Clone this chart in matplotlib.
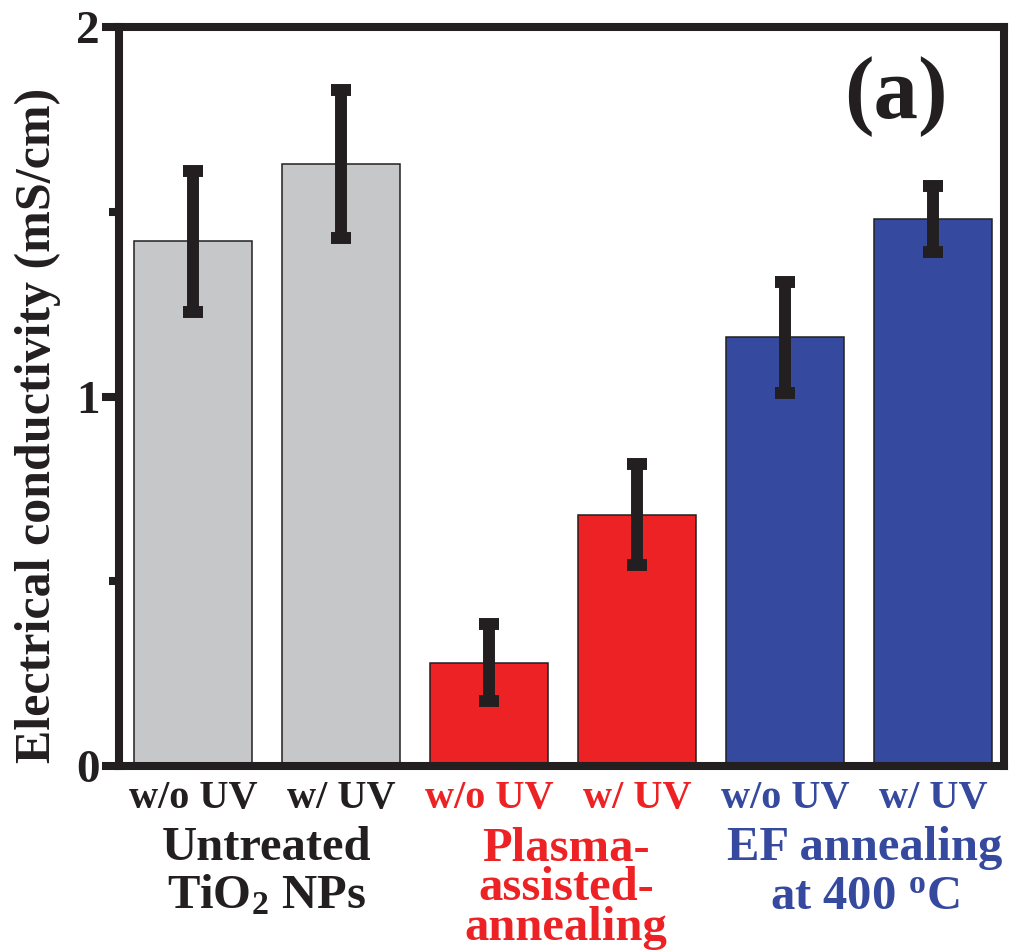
import matplotlib
matplotlib.use("Agg")
import matplotlib.pyplot as plt
from matplotlib.ticker import FixedLocator

plt.rcParams['font.family'] = ['Liberation Serif', 'DejaVu Serif']
plt.rcParams['font.weight'] = 'bold'
plt.rcParams['mathtext.fontset'] = 'custom'
plt.rcParams['mathtext.rm'] = 'Liberation Serif:bold'
plt.rcParams['mathtext.it'] = 'Liberation Serif:bold'
plt.rcParams['mathtext.bf'] = 'Liberation Serif:bold'

# data
conditions = ["w/o UV", "w/ UV", "w/o UV", "w/ UV", "w/o UV", "w/ UV"]
conductivity = [1.42, 1.63, 0.28, 0.68, 1.16, 1.48]
errors = [0.19, 0.20, 0.105, 0.137, 0.15, 0.089]
bar_colors = ["#c6c7c9", "#c6c7c9", "#ed2224", "#ed2224", "#354a9f", "#354a9f"]
label_colors = ["#231f20", "#231f20", "#ed2224", "#ed2224", "#354a9f", "#354a9f"]

groups = [
    ["Untreated", "TiO$_\\mathrm{2}$ NPs"],
    ["Plasma-", "assisted-", "annealing"],
    ["EF annealing", "at 400 $^\\mathrm{o}$C"],
]
group_x = [0.5, 2.52, 4.54]
group_colors = ["#231f20", "#ed2224", "#354a9f"]
# baselines of each line (axes fraction)
group_lines_y = [[-0.127, -0.193], [-0.128, -0.182, -0.235], [-0.127, -0.193]]

dark = "#231f20"

fig = plt.figure(figsize=(10.09, 9.52), dpi=100)
ax = fig.add_axes([0.1179, 0.1954, 0.8771, 0.7762])

x = list(range(len(conductivity)))
ax.bar(x, conductivity, width=0.8, color=bar_colors, edgecolor=dark,
       linewidth=1.1, zorder=2)
ax.errorbar(x, conductivity, yerr=errors, fmt='none', ecolor=dark,
            elinewidth=8.6, capsize=7.5, capthick=8.6, zorder=3)

ax.set_xlim(-0.5, 5.48)
ax.set_ylim(0, 2)

for s in ax.spines.values():
    s.set_linewidth(5.8)
    s.set_color(dark)
    s.set_zorder(5)

ax.set_yticks([0, 1, 2])
ax.set_yticklabels(["0", "1", "2"])
ax.yaxis.set_minor_locator(FixedLocator([0.5, 1.5]))
ax.tick_params(axis='y', which='major', length=12, width=5.8, color=dark,
               labelsize=34, pad=2, labelcolor=dark)
ax.tick_params(axis='y', which='minor', length=7, width=5.8, color=dark)
ax.set_xticks([])

tr = ax.get_xaxis_transform()
for xi, lab, c in zip(x, conditions, label_colors):
    ax.text(xi, -0.057, lab, transform=tr, ha='center', va='baseline',
            fontsize=29, fontweight='bold', color=c)

for gx, lines, ys, c in zip(group_x, groups, group_lines_y, group_colors):
    for line, yy in zip(lines, ys):
        ax.text(gx, yy, line, transform=tr, ha='center', va='baseline',
                fontsize=35, fontweight='bold', color=c, clip_on=False)

fig.text(38 / 1009, 0.5536, "Electrical conductivity (mS/cm)", rotation=90,
         ha='center', va='center', fontsize=36, fontweight='bold', color=dark)

ax.text(896 / 1009, (952 - 118) / 952, "(a)", transform=fig.transFigure,
        ha='center', va='baseline', fontsize=64, fontweight='bold', color=dark)

fig.savefig("out.png", dpi=100)
